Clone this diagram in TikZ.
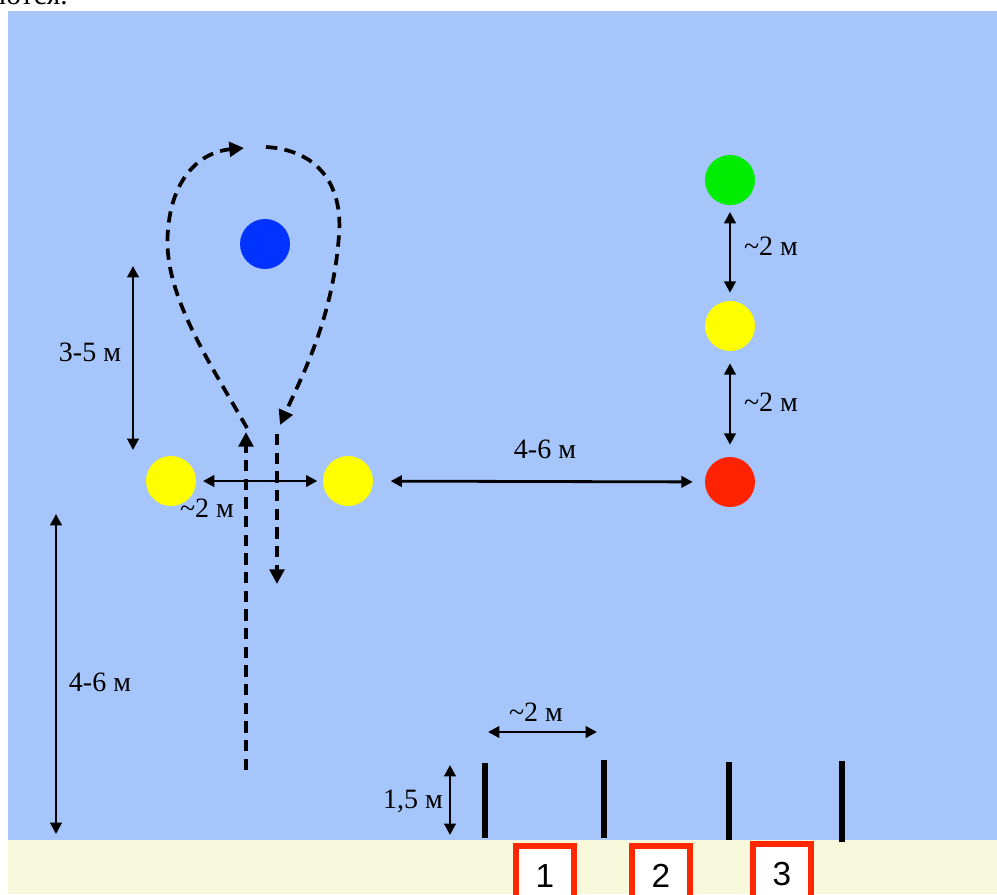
\documentclass[tikz,border=0pt]{standalone}
\usepackage{fontspec}
\setmainfont{Liberation Serif}
\newfontfamily\boxfont{Liberation Sans}
\usetikzlibrary{arrows.meta}
\definecolor{skyb}{RGB}{166,197,250}
\definecolor{sand}{RGB}{248,248,220}
\definecolor{dotblue}{RGB}{0,51,255}
\definecolor{dotgreen}{RGB}{0,236,0}
\definecolor{dotyellow}{RGB}{255,255,0}
\definecolor{dotred}{RGB}{255,34,0}
\definecolor{boxred}{RGB}{255,40,0}
\begin{document}
\begin{tikzpicture}[x=0.75pt,y=-0.75pt,
  dot/.style={circle,minimum size=37.5pt,inner sep=0pt,draw=none},
  dim/.style={line width=2.1pt,{Triangle[length=8.5pt,width=8.5pt]}-{Triangle[length=8.5pt,width=8.5pt]}},
  lbl/.style={font=\fontsize{21}{24}\selectfont,inner sep=0pt},
  route/.style={line width=2.8pt,dash pattern=on 8.5pt off 5.5pt,-{Triangle[length=11pt,width=11pt]}},
  post/.style={line width=4pt},
  numbox/.style={draw=boxred,fill=white,line width=4.5pt,minimum width=43.5pt,minimum height=45pt,inner sep=0pt,anchor=north,font=\boxfont\fontsize{25}{28}\selectfont}]
\useasboundingbox (0,0) rectangle (997,894);
% clipped caption text at top
\begin{scope}
  \clip (0,0) rectangle (997,11);
  \node[lbl,anchor=base east,font=\fontsize{22}{24}\selectfont] (cap) at (68,4) {ются.};
\end{scope}
% background
\fill[skyb] (8,11) rectangle (997,840);
\fill[sand] (8,840) rectangle (997,894);
% dots
\node[dot,fill=dotblue]   (blue) at (265,244) {};
\node[dot,fill=dotgreen]  (gr)   at (730,180) {};
\node[dot,fill=dotyellow] (yr2)  at (730,326) {};
\node[dot,fill=dotred]    (rd)   at (730,482) {};
\node[dot,fill=dotyellow] (yl)   at (171,481) {};
\node[dot,fill=dotyellow] (yr)   at (348,481) {};
% route coordinates
\coordinate (upS) at (246,770);
\coordinate (upE) at (246,432);
\coordinate (loopS) at (247,428);
\coordinate (loopL) at (168,230);
\coordinate (loopT) at (244,148);
\coordinate (loopT2) at (266,147);
\coordinate (loopR) at (339,235);
\coordinate (loopE) at (280,425);
\coordinate (dnS) at (277,434);
\coordinate (dnE) at (277,584);
% route
\draw[route] (upS) -- (upE);
\draw[route] (loopS) .. controls (205,355) and (162,290) .. (loopL) .. controls (172,178) and (200,152) .. (loopT);
\draw[route] (loopT2) .. controls (318,150) and (343,185) .. (loopR) .. controls (333,320) and (300,380) .. (loopE);
\draw[route] (dnS) -- (dnE);
% dimension arrows between dots
\draw[dim,shorten <=5pt,shorten >=4pt] (yl) -- (yr);
\draw[dim,shorten <=13pt,shorten >=9pt] (yr) -- (rd);
\draw[dim,shorten <=5pt,shorten >=6pt] (gr) -- (yr2);
\draw[dim,shorten <=9pt,shorten >=9pt] (yr2) -- (rd);
% other dimension arrows
\coordinate (a35t) at (133,266); \coordinate (a35b) at (133,450);
\draw[dim] (a35t) -- (a35b);
\coordinate (a46t) at (56,514); \coordinate (a46b) at (56,834);
\draw[dim] (a46t) -- (a46b);
\coordinate (g2l) at (488,732); \coordinate (g2r) at (597,732);
\draw[dim] (g2l) -- (g2r);
\coordinate (h15t) at (450,765); \coordinate (h15b) at (450,835);
\draw[dim] (h15t) -- (h15b);
% labels
\node[lbl] (l35) at (90,352) {3-5 м};
\node[lbl] (l2a) at (207,508) {\textasciitilde2 м};
\node[lbl] (l46a) at (545,449) {4-6 м};
\node[lbl] (l2b) at (771,246) {\textasciitilde2 м};
\node[lbl] (l2c) at (771,402) {\textasciitilde2 м};
\node[lbl] (l46b) at (100,682) {4-6 м};
\node[lbl] (l2d) at (536,712) {\textasciitilde2 м};
\node[lbl] (l15) at (413,801) {1,5 м};
% gate posts
\coordinate (p1t) at (485,763); \coordinate (p1b) at (485,838);
\coordinate (p2t) at (604,760); \coordinate (p2b) at (604,838);
\coordinate (p3t) at (729,762); \coordinate (p3b) at (729,840);
\coordinate (p4t) at (842,761); \coordinate (p4b) at (842,842);
\draw[post] (p1t) -- (p1b);
\draw[post] (p2t) -- (p2b);
\draw[post] (p3t) -- (p3b);
\draw[post] (p4t) -- (p4b);
% numbered boxes
\node[numbox] (b1) at (545,843) {1};
\node[numbox] (b2) at (661,843) {2};
\node[numbox] (b3) at (782,841) {3};
\end{tikzpicture}
\end{document}
